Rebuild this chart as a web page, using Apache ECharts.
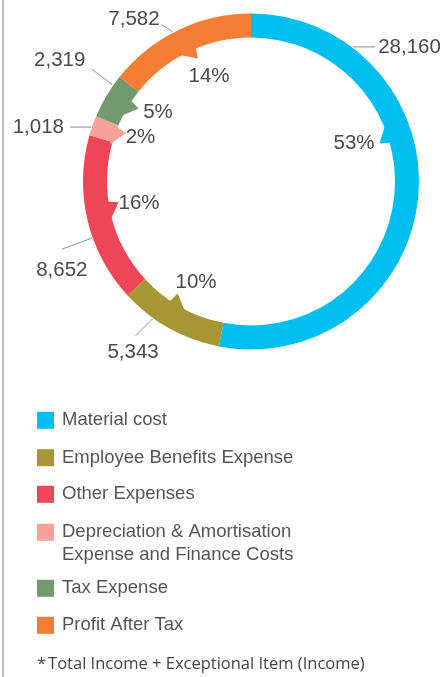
<!DOCTYPE html>
<html><head><meta charset="utf-8">
<script src="https://cdn.jsdelivr.net/npm/echarts@6/dist/echarts.min.js"></script>
<style>html,body{margin:0;padding:0;background:#fff;}#c{width:443px;height:677px;}</style>
</head><body><div id="c"></div>
<script>
// ---- data ----
const categories = ['Material cost', 'Employee Benefits Expense', 'Other Expenses',
  'Depreciation & Amortisation Expense and Finance Costs', 'Tax Expense', 'Profit After Tax'];
const values = [28160, 5343, 8652, 1018, 2319, 7582];
const percentLabels = ['53%', '10%', '16%', '2%', '5%', '14%'];
const colors = ['#00BEF0', '#A69734', '#EE4656', '#F6A29A', '#739A6E', '#F47C33'];
const footnote = 'Total Income + Exceptional Item (Income)';

// ---- layout ----
const CX = 251, CY = 181.5, R_IN = 144, R_OUT = 168;
const total = values.reduce((a, b) => a + b, 0);
const mids = [];
values.reduce((acc, v) => { mids.push(acc + v / 2); return acc + v; }, 0);

// per-slice tweaks (degrees relative to slice middle, pixel offsets)
const notchShift = [-23.5, 2.6, 3, 0.3, 0.8, 0.9];
const pctPos = [[110, -26], [115, -0.6], [114, 2.5], [119, 2.4], [116, 6], [113.5, 4]];
const valPos = [
  { s: -58.3, dx: 22, dy: 0, tx: 3, ty: 0, al: 'left' },
  { s: 6.5, dx: -17, dy: 17, tx: -2.5, ty: 16, al: 'center' },
  { s: -6.2, dx: -30, dy: 11, tx: 0, ty: 21, al: 'center' },
  { s: -0.6, dx: -21, dy: 0, tx: -6, ty: 0, al: 'right' },
  { s: 4.2, dx: -21, dy: -16, tx: -6, ty: -8, al: 'right' },
  { s: -1.9, dx: -11, dy: -7, tx: -2, ty: -5, al: 'right' }
];
const TEXT = '#4a4a4a';
const FONT = 'Liberation Sans';

const legendCenters = [419.3, 456.7, 493.3, 532.3, 587.3, 624.3];

const chart = echarts.init(document.getElementById('c'), null, { renderer: 'canvas' });

const legends = categories.map((c, i) => {
  const multi = i === 3;
  return {
    orient: 'vertical', left: 37,
    top: multi ? legendCenters[i] - 34.5 : legendCenters[i] - 8.5,
    padding: 0, itemWidth: 17, itemHeight: 17, icon: 'rect',
    selectedMode: false,
    formatter: n => multi ? ' \n' + n.replace(' Expense and', '\nExpense and') : n,
    textStyle: {
      fontSize: 18.5, fontFamily: FONT, color: '#555',
      lineHeight: multi ? 23 : 17,
      padding: [0, 0, 0, 3]
    },
    data: [c]
  };
});

chart.setOption({
  animation: false,
  polar: { center: [CX, CY], radius: R_OUT },
  angleAxis: { type: 'value', min: 0, max: total, startAngle: 90, clockwise: true, show: false },
  radiusAxis: { type: 'value', min: 0, max: R_OUT, show: false },
  legend: legends,
  series: [
    {
      type: 'pie', center: [CX, CY], radius: [R_IN, R_OUT], startAngle: 90, clockwise: true,
      silent: true, label: { show: false }, labelLine: { show: false },
      emphasis: { disabled: true },
      itemStyle: { borderWidth: 0 },
      data: categories.map((c, i) => ({ name: c, value: values[i], itemStyle: { color: colors[i] } }))
    },
    {
      type: 'custom', coordinateSystem: 'polar', silent: true, z: 5,
      data: mids.map(m => [R_IN, m]),
      renderItem: function (params, api) {
        const i = params.dataIndex;
        const mid = api.value(1);
        const k = total / 360;
        const P = (r, d) => api.coord([r, mid + d * k]);
        const ch = [];
        const n = notchShift[i];
        ch.push({ type: 'polygon', shape: { points: [P(146, n - 5), P(146, n + 2.5), P(134, n + 1.5)] },
          style: { fill: colors[i] } });
        const pp = P(pctPos[i][0], pctPos[i][1]);
        ch.push({ type: 'text', x: pp[0], y: pp[1], style: { text: percentLabels[i], fill: TEXT,
          font: '20.5px "' + FONT + '"', align: 'center', verticalAlign: 'middle' } });
        const v = valPos[i];
        const a = P(R_OUT + 1, v.s);
        const e = [a[0] + v.dx, a[1] + v.dy];
        ch.push({ type: 'polyline', shape: { points: [a, e] }, style: { stroke: '#8c8c8c', lineWidth: 1, fill: null } });
        ch.push({ type: 'text', x: e[0] + v.tx, y: e[1] + v.ty, style: {
          text: values[i].toLocaleString('en-US'), fill: TEXT, font: '20.5px "' + FONT + '"',
          align: v.al, verticalAlign: 'middle' } });
        return { type: 'group', children: ch };
      }
    }
  ],
  graphic: [
    { type: 'line', shape: { x1: 3, y1: 0, x2: 3, y2: 677 }, style: { stroke: '#a0a0a0', lineWidth: 1.3 } },
    { type: 'text', left: 37, top: 656, style: {
      text: '{s|*}{t|' + footnote + '}',
      rich: {
        s: { fontSize: 16.5, fontFamily: 'Open Sans', fill: '#444', padding: [0, 2, 0, 0] },
        t: { fontSize: 16.5, fontFamily: 'Open Sans', fill: '#444' }
      } } }
  ]
});
</script></body></html>
